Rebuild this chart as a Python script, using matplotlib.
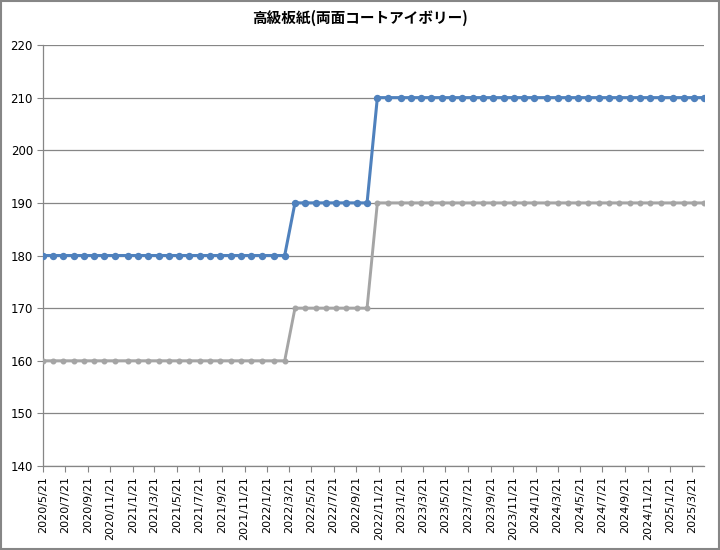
import matplotlib
matplotlib.use('Agg')
import matplotlib.pyplot as plt
import pandas as pd
from matplotlib.patches import Rectangle

title = '高級板紙(両面コートアイボリー)'

dates = [
    '2020-05-21', '2020-06-18', '2020-07-16', '2020-08-13', '2020-09-10', '2020-10-08',
    '2020-11-05', '2020-12-03', '2021-01-07', '2021-02-04', '2021-03-04', '2021-04-01',
    '2021-04-29', '2021-05-27', '2021-06-24', '2021-07-22', '2021-08-19', '2021-09-16',
    '2021-10-14', '2021-11-11', '2021-12-09', '2022-01-06', '2022-02-10', '2022-03-10',
    '2022-04-07', '2022-05-05', '2022-06-02', '2022-06-30', '2022-07-28', '2022-08-25',
    '2022-09-22', '2022-10-20', '2022-11-17', '2022-12-15', '2023-01-19', '2023-02-16',
    '2023-03-16', '2023-04-13', '2023-05-11', '2023-06-08', '2023-07-06', '2023-08-03',
    '2023-08-31', '2023-09-28', '2023-10-26', '2023-11-23', '2023-12-21', '2024-01-18',
    '2024-02-22', '2024-03-21', '2024-04-18', '2024-05-16', '2024-06-13', '2024-07-11',
    '2024-08-08', '2024-09-05', '2024-10-03', '2024-10-31', '2024-11-28', '2024-12-26',
    '2025-01-30', '2025-02-27', '2025-03-27', '2025-04-24',
]

# upper (blue) series
price_high = [
    180, 180, 180, 180, 180, 180, 180, 180, 180, 180, 180, 180,
    180, 180, 180, 180, 180, 180, 180, 180, 180, 180, 180, 180,
    190, 190, 190, 190, 190, 190, 190, 190,
    210, 210, 210, 210, 210, 210, 210, 210, 210, 210, 210, 210,
    210, 210, 210, 210, 210, 210, 210, 210, 210, 210, 210, 210,
    210, 210, 210, 210, 210, 210, 210, 210,
]

# lower (gray) series
price_low = [
    160, 160, 160, 160, 160, 160, 160, 160, 160, 160, 160, 160,
    160, 160, 160, 160, 160, 160, 160, 160, 160, 160, 160, 160,
    170, 170, 170, 170, 170, 170, 170, 170,
    190, 190, 190, 190, 190, 190, 190, 190, 190, 190, 190, 190,
    190, 190, 190, 190, 190, 190, 190, 190, 190, 190, 190, 190,
    190, 190, 190, 190, 190, 190, 190, 190,
]

tick_dates = [
    '2020-05-21', '2020-07-21', '2020-09-21', '2020-11-21', '2021-01-21', '2021-03-21',
    '2021-05-21', '2021-07-21', '2021-09-21', '2021-11-21', '2022-01-21', '2022-03-21',
    '2022-05-21', '2022-07-21', '2022-09-21', '2022-11-21', '2023-01-21', '2023-03-21',
    '2023-05-21', '2023-07-21', '2023-09-21', '2023-11-21', '2024-01-21', '2024-03-21',
    '2024-05-21', '2024-07-21', '2024-09-21', '2024-11-21', '2025-01-21', '2025-03-21',
]

x = pd.to_datetime(dates)
xt = pd.to_datetime(tick_dates)
tick_labels = [f'{d.year}/{d.month}/{d.day}' for d in xt]

grid_c = '#868686'

fig = plt.figure(figsize=(7.2, 5.5), dpi=100)
ax = fig.add_axes([0.0593, 0.1527, 0.9189, 0.7655])

ax.plot(x, price_low, color='#A5A5A5', lw=2.1, marker='o', ms=3.3, zorder=3)
ax.plot(x, price_high, color='#4F81BD', lw=2.2, marker='o', ms=4.3, zorder=4)

ax.set_ylim(140, 220)
ax.set_yticks(range(140, 221, 10))
ax.set_xlim(x[0], x[-1])
ax.set_xticks(xt)
ax.set_xticklabels(tick_labels, rotation=90, fontsize=8)
ax.tick_params(axis='y', labelsize=8.5, length=4, color=grid_c, pad=3)
ax.tick_params(axis='x', length=4, color=grid_c, pad=3)

ax.grid(axis='y', color=grid_c, lw=0.9)
ax.set_axisbelow(True)
for s in ['top', 'right']:
    ax.spines[s].set_visible(False)
for s in ['left', 'bottom']:
    ax.spines[s].set_color(grid_c)
    ax.spines[s].set_linewidth(0.9)

fig.text(0.5, 0.967, title, ha='center', va='center', fontsize=10.5,
         fontweight='bold', family=['Noto Sans CJK JP', 'DejaVu Sans'])

# chart border
fig.patches.append(Rectangle((0.001, 0.002), 0.997, 0.996, transform=fig.transFigure,
                             fill=False, edgecolor=grid_c, lw=1.5))

fig.savefig('out.png', dpi=100)
